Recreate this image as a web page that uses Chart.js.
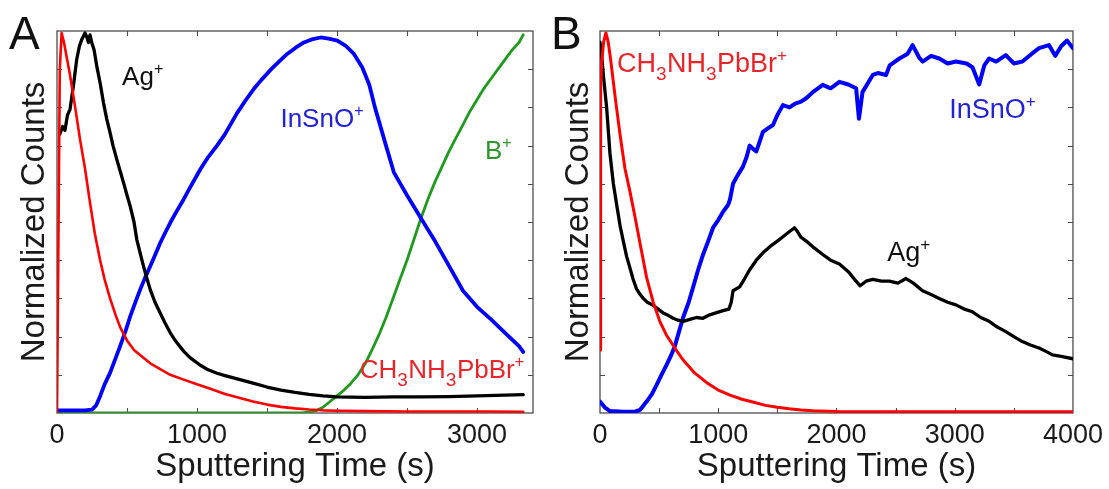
<!DOCTYPE html>
<html>
<head>
<meta charset="utf-8">
<script src="https://cdn.jsdelivr.net/npm/chart.js@4.4.1/dist/chart.umd.min.js"></script>
<style>
  html, body { margin: 0; padding: 0; background: #ffffff; }
  #wrap { position: relative; width: 1109px; height: 489px; overflow: hidden; background: #fff; }
  canvas { position: absolute; top: 0; }
  #cA { left: 0px; }
  #cB { left: 549px; }
</style>
</head>
<body>
<div id="wrap">
  <canvas id="cA" width="560" height="489"></canvas>
  <canvas id="cB" width="560" height="489"></canvas>
</div>
<script>
// ---------------- Panel A data (time in s, normalized counts) ----------------
const A_red_t   = [0, 10, 20, 33, 50, 70, 93, 130, 165, 200, 236, 270, 308, 340, 379, 420, 451, 500, 550, 600, 666, 750, 809, 900, 1000, 1100, 1200, 1300, 1400, 1500, 1600, 1700, 1800, 1900, 2000, 2200, 2500, 2800, 3100, 3330];
const A_red     = [0, 0.45, 0.9, 0.995, 0.97, 0.93, 0.885, 0.80, 0.715, 0.64, 0.55, 0.47, 0.40, 0.35, 0.30, 0.255, 0.225, 0.19, 0.165, 0.15, 0.13, 0.112, 0.10, 0.088, 0.075, 0.063, 0.05, 0.04, 0.03, 0.022, 0.016, 0.012, 0.009, 0.007, 0.006, 0.005, 0.004, 0.004, 0.004, 0.003];

const A_black_t = [20, 40, 57, 75, 93, 117, 141, 160, 177, 200, 212, 225, 236, 248, 265, 284, 310, 332, 355, 379, 400, 427, 450, 475, 500, 523, 550, 570, 600, 618, 640, 666, 700, 737, 770, 809, 850, 904, 950, 1024, 1080, 1143, 1200, 1300, 1400, 1500, 1600, 1700, 1800, 1900, 2000, 2200, 2400, 2600, 2800, 3000, 3200, 3330];
const A_black   = [0.73, 0.75, 0.74, 0.78, 0.795, 0.856, 0.926, 0.96, 0.978, 0.995, 0.985, 0.97, 0.99, 0.97, 0.95, 0.908, 0.86, 0.812, 0.77, 0.734, 0.70, 0.664, 0.635, 0.603, 0.57, 0.541, 0.50, 0.454, 0.41, 0.384, 0.355, 0.323, 0.29, 0.262, 0.237, 0.21, 0.187, 0.162, 0.145, 0.125, 0.113, 0.104, 0.098, 0.088, 0.078, 0.068, 0.06, 0.054, 0.049, 0.045, 0.042, 0.041, 0.042, 0.042, 0.043, 0.045, 0.047, 0.048];

const A_blue_t  = [0, 100, 200, 250, 280, 308, 340, 379, 420, 451, 490, 523, 560, 594, 630, 666, 700, 737, 770, 809, 850, 904, 950, 1024, 1080, 1143, 1200, 1286, 1350, 1405, 1460, 1525, 1580, 1644, 1700, 1763, 1820, 1883, 1940, 2002, 2060, 2121, 2180, 2230, 2271, 2350, 2406, 2500, 2591, 2650, 2700, 2800, 2900, 3000, 3100, 3200, 3300, 3330];
const A_blue    = [0.007, 0.007, 0.007, 0.009, 0.02, 0.044, 0.075, 0.105, 0.145, 0.175, 0.215, 0.253, 0.29, 0.323, 0.355, 0.384, 0.413, 0.445, 0.47, 0.498, 0.525, 0.559, 0.59, 0.638, 0.67, 0.70, 0.73, 0.785, 0.82, 0.848, 0.872, 0.898, 0.918, 0.94, 0.955, 0.97, 0.978, 0.983, 0.98, 0.975, 0.962, 0.94, 0.905, 0.86, 0.80, 0.70, 0.63, 0.57, 0.515, 0.48, 0.45, 0.385, 0.32, 0.278, 0.245, 0.21, 0.175, 0.16];

const A_green_t = [0, 500, 1000, 1500, 1750, 1800, 1850, 1900, 1950, 2000, 2050, 2100, 2150, 2200, 2250, 2300, 2350, 2400, 2450, 2500, 2550, 2600, 2650, 2700, 2750, 2800, 2850, 2900, 2950, 3000, 3050, 3100, 3150, 3200, 3250, 3300, 3330];
const A_green   = [0, 0, 0, 0, 0, 0.002, 0.006, 0.015, 0.03, 0.045, 0.06, 0.078, 0.1, 0.128, 0.165, 0.205, 0.25, 0.30, 0.35, 0.40, 0.455, 0.51, 0.56, 0.605, 0.645, 0.685, 0.72, 0.755, 0.79, 0.82, 0.85, 0.875, 0.9, 0.925, 0.95, 0.97, 0.99];

// ---------------- Panel B data ----------------
const B_red_t   = [0, 3, 8, 15, 30, 50, 70, 90, 127, 169, 211, 253, 295, 338, 394, 450, 506, 560, 633, 700, 800, 900, 1000, 1100, 1200, 1300, 1400, 1500, 1600, 1700, 1800, 2000, 2500, 3000, 3500, 4000];
const B_red     = [0.165, 0.6, 0.85, 0.92, 0.97, 0.995, 0.97, 0.925, 0.83, 0.73, 0.64, 0.58, 0.515, 0.445, 0.355, 0.29, 0.24, 0.205, 0.17, 0.14, 0.105, 0.08, 0.06, 0.047, 0.036, 0.028, 0.02, 0.015, 0.011, 0.008, 0.006, 0.004, 0.003, 0.003, 0.003, 0.003];

const B_black_t = [0, 10, 30, 56, 84, 113, 141, 170, 197, 225, 253, 280, 309, 340, 366, 400, 450, 500, 534, 580, 619, 660, 703, 760, 816, 870, 928, 980, 1041, 1090, 1110, 1125, 1181, 1220, 1266, 1322, 1380, 1439, 1500, 1550, 1603, 1645, 1670, 1700, 1744, 1800, 1884, 1950, 2025, 2100, 2166, 2200, 2250, 2307, 2380, 2447, 2520, 2588, 2650, 2728, 2800, 2869, 2940, 3010, 3080, 3150, 3220, 3291, 3360, 3432, 3500, 3572, 3640, 3713, 3780, 3826, 3900, 4000];
const B_black   = [0.97, 0.95, 0.88, 0.80, 0.68, 0.60, 0.545, 0.49, 0.45, 0.41, 0.38, 0.35, 0.325, 0.31, 0.30, 0.29, 0.282, 0.27, 0.262, 0.255, 0.248, 0.243, 0.24, 0.245, 0.25, 0.248, 0.257, 0.262, 0.268, 0.272, 0.29, 0.32, 0.33, 0.35, 0.375, 0.40, 0.42, 0.436, 0.45, 0.462, 0.475, 0.485, 0.475, 0.46, 0.45, 0.435, 0.415, 0.40, 0.39, 0.37, 0.345, 0.333, 0.345, 0.35, 0.345, 0.345, 0.34, 0.352, 0.34, 0.32, 0.31, 0.30, 0.29, 0.283, 0.272, 0.265, 0.25, 0.24, 0.225, 0.213, 0.2, 0.187, 0.178, 0.17, 0.16, 0.152, 0.148, 0.142];

const B_blue_t  = [0, 40, 84, 200, 300, 338, 394, 440, 478, 520, 563, 600, 633, 670, 703, 750, 788, 830, 872, 915, 956, 1000, 1041, 1084, 1100, 1125, 1160, 1209, 1240, 1266, 1300, 1322, 1350, 1378, 1420, 1463, 1500, 1547, 1603, 1650, 1700, 1744, 1800, 1884, 1950, 2025, 2100, 2166, 2190, 2220, 2307, 2350, 2419, 2450, 2532, 2600, 2644, 2700, 2728, 2800, 2869, 2940, 3010, 3100, 3150, 3207, 3250, 3291, 3350, 3432, 3500, 3572, 3650, 3713, 3797, 3850, 3900, 3950, 4000];
const B_blue    = [0.03, 0.015, 0.005, 0.003, 0.004, 0.008, 0.03, 0.05, 0.073, 0.1, 0.126, 0.15, 0.175, 0.215, 0.25, 0.29, 0.33, 0.375, 0.415, 0.45, 0.485, 0.505, 0.527, 0.545, 0.56, 0.60, 0.62, 0.645, 0.67, 0.70, 0.69, 0.685, 0.71, 0.736, 0.745, 0.754, 0.78, 0.806, 0.80, 0.81, 0.815, 0.824, 0.84, 0.859, 0.85, 0.867, 0.86, 0.85, 0.77, 0.84, 0.885, 0.89, 0.885, 0.91, 0.928, 0.94, 0.963, 0.93, 0.92, 0.935, 0.928, 0.915, 0.92, 0.915, 0.905, 0.86, 0.91, 0.928, 0.92, 0.937, 0.915, 0.92, 0.94, 0.955, 0.963, 0.935, 0.96, 0.975, 0.955];

// ---------------- Axis ticks / labels / titles ----------------
const X_TICKS_A  = [0, 500, 1000, 1500, 2000, 2500, 3000];
const X_TICKS_B  = [0, 500, 1000, 1500, 2000, 2500, 3000, 3500, 4000];
const X_LABELS_A = [0, 1000, 2000, 3000];
const X_LABELS_B = [0, 1000, 2000, 3000, 4000];
const Y_TICKS    = [0, 0.1, 0.2, 0.3, 0.4, 0.5, 0.6, 0.7, 0.8, 0.9, 1];
const X_TITLE = 'Sputtering Time (s)';
const Y_TITLE = 'Normalized Counts';

// ---------------- Styling ----------------
const FONT = "'Liberation Sans', Arial, Helvetica, sans-serif";
const RED = '#ff0000', BLUE = '#0000ff', BLACK = '#000000', GREEN = '#1f9a1f';
const TXT_RED = '#e8262a', TXT_BLUE = '#2323d6', TXT_GREEN = '#2e962e', TXT_BLACK = '#111111';

function pts(t, v) { return t.map((x, i) => ({x: x, y: v[i]})); }

function ds(label, t, v, color, w) {
  return { label, data: pts(t, v), borderColor: color, backgroundColor: color,
           borderWidth: w, pointRadius: 0, tension: 0, fill: false,
           borderJoinStyle: 'round', borderCapStyle: 'round' };
}

// annotation labels: anchored at (x value, baseline y value)
const LABELS_A = [
  { x: 465,  y: 0.859, color: TXT_BLACK, parts: [['Ag',''], ['+','sup']] },
  { x: 1596, y: 0.749, color: TXT_BLUE,  parts: [['InSnO',''], ['+','sup']] },
  { x: 3057, y: 0.665, color: TXT_GREEN, parts: [['B',''], ['+','sup']] },
  { x: 2162, y: 0.092, color: TXT_RED,   parts: [['CH',''], ['3','sub'], ['NH',''], ['3','sub'], ['PbBr',''], ['+','sup']] }
];
const LABELS_B = [
  { x: 143,  y: 0.893, color: TXT_RED,   parts: [['CH',''], ['3','sub'], ['NH',''], ['3','sub'], ['PbBr',''], ['+','sup']] },
  { x: 2954, y: 0.772, color: TXT_BLUE,  parts: [['InSnO',''], ['+','sup']] },
  { x: 2430, y: 0.398, color: TXT_BLACK, parts: [['Ag',''], ['+','sup']] }
];

const frameTicks = {
  id: 'frameTicks',
  beforeDatasetsDraw(chart) {
    const {ctx, chartArea: a, scales: {x, y}} = chart;
    ctx.save();
    ctx.strokeStyle = '#4d4d4d';
    ctx.lineWidth = 1.3;
    ctx.strokeRect(a.left, a.top, a.right - a.left, a.bottom - a.top);
    ctx.beginPath();
    ctx.lineWidth = 1.1;
    x.ticks.forEach(tk => {
      if (tk.value <= x.min || tk.value >= x.max) return;
      const px = Math.round(x.getPixelForValue(tk.value)) + 0.5;
      ctx.moveTo(px, a.bottom); ctx.lineTo(px, a.bottom - 5);
      ctx.moveTo(px, a.top); ctx.lineTo(px, a.top + 5);
    });
    y.ticks.forEach(tk => {
      if (tk.value <= y.min + 1e-9 || tk.value >= y.max - 1e-9) return;
      const py = Math.round(y.getPixelForValue(tk.value)) + 0.5;
      ctx.moveTo(a.left, py); ctx.lineTo(a.left + 5, py);
      ctx.moveTo(a.right, py); ctx.lineTo(a.right - 5, py);
    });
    ctx.stroke();
    ctx.restore();
  },
  afterDraw(chart, args, opts) {
    const {ctx, scales: {x, y}} = chart;
    ctx.save();
    ctx.fillStyle = '#111';
    ctx.font = '46px ' + FONT;
    ctx.textBaseline = 'alphabetic';
    ctx.textAlign = 'left';
    ctx.fillText(opts.letter, opts.letterX, 49);
    const size = opts.labelSize;
    (opts.labels || []).forEach(lb => {
      let px = x.getPixelForValue(lb.x);
      const py = y.getPixelForValue(lb.y);
      ctx.fillStyle = lb.color;
      lb.parts.forEach(([txt, kind]) => {
        let fs = size, dy = 0;
        if (kind === 'sub') { fs = Math.round(size * 0.72); dy = size * 0.3; }
        if (kind === 'sup') { fs = Math.round(size * 0.62); dy = -size * 0.42; }
        ctx.font = fs + 'px ' + FONT;
        ctx.fillText(txt, px, py + dy);
        px += ctx.measureText(txt).width + (kind === 'sub' ? 0.5 : 0);
      });
    });
    ctx.restore();
  }
};

function makeChart(id, datasets, xmax, xTicks, xLabels, yWidth, rightPad, yTitlePad, letter, letterX, labels, labelSize) {
  return new Chart(document.getElementById(id), {
    type: 'line',
    data: { datasets },
    options: {
      responsive: false,
      animation: false,
      devicePixelRatio: 1,
      layout: { padding: { top: 31, right: rightPad, left: 0, bottom: 0 } },
      plugins: {
        legend: { display: false },
        tooltip: { enabled: false },
        frameTicks: { letter, letterX, labels, labelSize }
      },
      scales: {
        x: {
          type: 'linear', min: 0, max: xmax,
          grid: { display: false, drawTicks: false },
          border: { display: false },
          afterBuildTicks(s) { s.ticks = xTicks.map(v => ({ value: v })); },
          ticks: {
            autoSkip: false, maxRotation: 0, minRotation: 0, padding: 6,
            color: '#1a1a1a', font: { family: FONT, size: 27 },
            callback: v => xLabels.includes(v) ? String(v) : ''
          },
          title: { display: true, text: X_TITLE, color: '#1a1a1a',
                   font: { family: FONT, size: 33 }, padding: { top: 0, bottom: 2 } },
          afterFit(s) { s.height = 76; }
        },
        y: {
          type: 'linear', min: 0, max: 1,
          grid: { display: false, drawTicks: false },
          border: { display: false },
          afterBuildTicks(s) { s.ticks = Y_TICKS.map(v => ({ value: v })); },
          ticks: { display: false },
          title: { display: true, text: Y_TITLE, color: '#1a1a1a',
                   font: { family: FONT, size: 33 }, padding: { top: yTitlePad, bottom: 0 } },
          afterFit(s) { s.width = yWidth; }
        }
      }
    },
    plugins: [frameTicks]
  });
}

makeChart('cA', [
  ds('CH3NH3PbBr+', A_red_t, A_red, RED, 2.6),
  ds('Ag+', A_black_t, A_black, BLACK, 3.3),
  ds('InSnO+', A_blue_t, A_blue, BLUE, 3.8),
  ds('B+', A_green_t, A_green, GREEN, 2.8)
], 3400, X_TICKS_A, X_LABELS_A, 57, 27, 15, 'A', 9, LABELS_A, 26);

makeChart('cB', [
  ds('CH3NH3PbBr+', B_red_t, B_red, RED, 3.0),
  ds('Ag+', B_black_t, B_black, BLACK, 3.3),
  ds('InSnO+', B_blue_t, B_blue, BLUE, 4.0)
], 4000, X_TICKS_B, X_LABELS_B, 51, 35, 10, 'B', 2, LABELS_B, 27);
</script>
</body>
</html>
